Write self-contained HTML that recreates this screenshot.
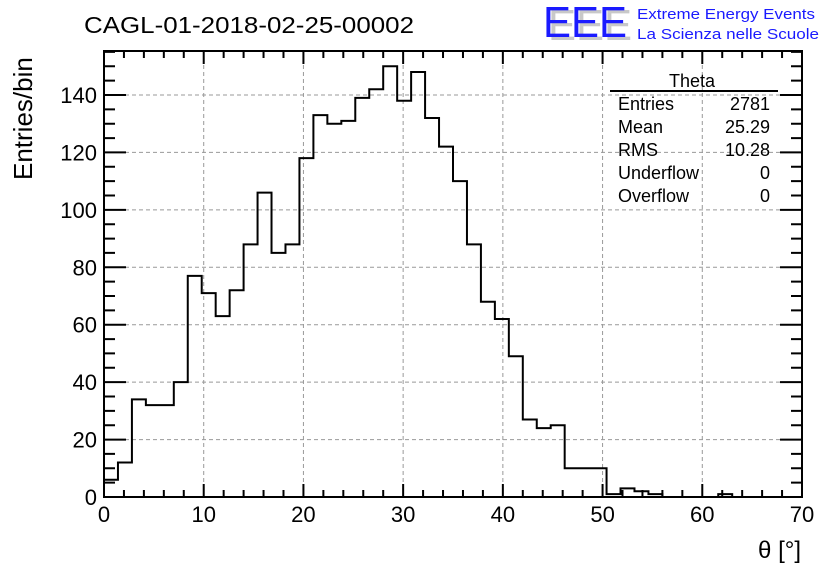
<!DOCTYPE html>
<html><head><meta charset="utf-8"><style>
body{margin:0;background:#fff;}
svg{display:block;font-family:"Liberation Sans",sans-serif;}
</style></head><body>
<svg id="chart" width="836" height="572" viewBox="0 0 836 572" xmlns="http://www.w3.org/2000/svg">
<rect width="836" height="572" fill="#fff"/>
<text x="84" y="33" font-size="23" textLength="330" lengthAdjust="spacingAndGlyphs">CAGL-01-2018-02-25-00002</text>
<g>
<text x="548" y="40" font-size="44" fill="#c8c8c8" textLength="84" lengthAdjust="spacingAndGlyphs">EEE</text>
<text x="543" y="37" font-size="44" fill="#1a1aff" textLength="84" lengthAdjust="spacingAndGlyphs">EEE</text>
<text x="637" y="19" font-size="15" fill="#1a1aff" textLength="178" lengthAdjust="spacingAndGlyphs">Extreme Energy Events</text>
<text x="637" y="39" font-size="15" fill="#1a1aff" textLength="182" lengthAdjust="spacingAndGlyphs">La Scienza nelle Scuole</text>
</g>
<g id="grid"></g>
<g id="axes"></g>
<path id="hist" fill="none" stroke="#000" stroke-width="2"/>
<text transform="translate(32,180) rotate(-90)" font-size="26">Entries/bin</text>
<text x="801" y="558" font-size="24" text-anchor="end">θ [°]</text>
<g font-size="18">
<text x="692" y="87" text-anchor="middle">Theta</text>
<line x1="610" y1="91" x2="778" y2="91" stroke="#000" stroke-width="2"/>
<text x="618" y="110">Entries</text><text x="770" y="110" text-anchor="end">2781</text>
<text x="618" y="133">Mean</text><text x="770" y="133" text-anchor="end">25.29</text>
<text x="618" y="156">RMS</text><text x="770" y="156" text-anchor="end">10.28</text>
<text x="618" y="179">Underflow</text><text x="770" y="179" text-anchor="end">0</text>
<text x="618" y="202">Overflow</text><text x="770" y="202" text-anchor="end">0</text>
</g>
</svg>
<script>
const binWidth = 1.4;
const counts = [6,12,34,32,32,40,77,71,63,72,88,106,85,88,118,133,130,131,139,142,150,138,148,132,122,110,88,68,62,49,27,24,25,10,10,10,1,3,2,1,0,0,0,0,1,0,0,0,0,0];
const xTicks = [0,10,20,30,40,50,60,70];
const yTicks = [0,20,40,60,80,100,120,140];
const X0=104,X1=802,Y0=497,Y1=51;
const xs = v => X0 + v*(X1-X0)/70;
const ys = v => Y0 - v*(Y0-95)/140;
const NS='http://www.w3.org/2000/svg';
const grid=document.getElementById('grid'), axes=document.getElementById('axes');
function mk(tag, attrs, parent){const e=document.createElementNS(NS,tag);for(const k in attrs)e.setAttribute(k,attrs[k]);parent.appendChild(e);return e;}
xTicks.forEach(t=>{
  if(t>0&&t<70){const l=mk('line',{x1:xs(t),x2:xs(t),y1:Y1,y2:Y0,stroke:'#999','stroke-dasharray':'4,3','stroke-width':1},grid);
  
  }
  const tx=mk('text',{x:xs(t),y:522,'font-size':22,'text-anchor':'middle'},axes);tx.textContent=t;
  
  
});
yTicks.forEach(t=>{
  if(t>0){const l=mk('line',{x1:X0,x2:X1,y1:ys(t),y2:ys(t),stroke:'#999','stroke-dasharray':'4,3','stroke-width':1},grid);
  
  }
  const tx=mk('text',{x:97,y:ys(t)+8,'font-size':22,'text-anchor':'end'},axes);tx.textContent=t;
  
  
});
let tk='';
for(let v=0;v<=70;v+=2){const L=(v%10===0)?13:7;const x=xs(v);tk+=`M${x},${Y0}V${Y0-L}M${x},${Y1}V${Y1+L}`;}
for(let v=0;ys(v)>=Y1;v+=5){const L=(v%20===0)?22:11;const y=ys(v);tk+=`M${X0},${y}H${X0+L}M${X1},${y}H${X1-L}`;}
const tp=mk('path',{d:tk,stroke:'#000','stroke-width':2,fill:'none'},axes);


const fr=mk('rect',{x:X0,y:Y1,width:X1-X0,height:Y0-Y1,fill:'none',stroke:'#000','stroke-width':2},axes);


let d=`M${xs(0)},${ys(0)}`;
counts.forEach((c,i)=>{d+=`V${ys(c)}H${xs((i+1)*binWidth)}`;});
d+=`V${ys(0)}`;
document.getElementById('hist').setAttribute('d',d);
</script>
</body></html>
